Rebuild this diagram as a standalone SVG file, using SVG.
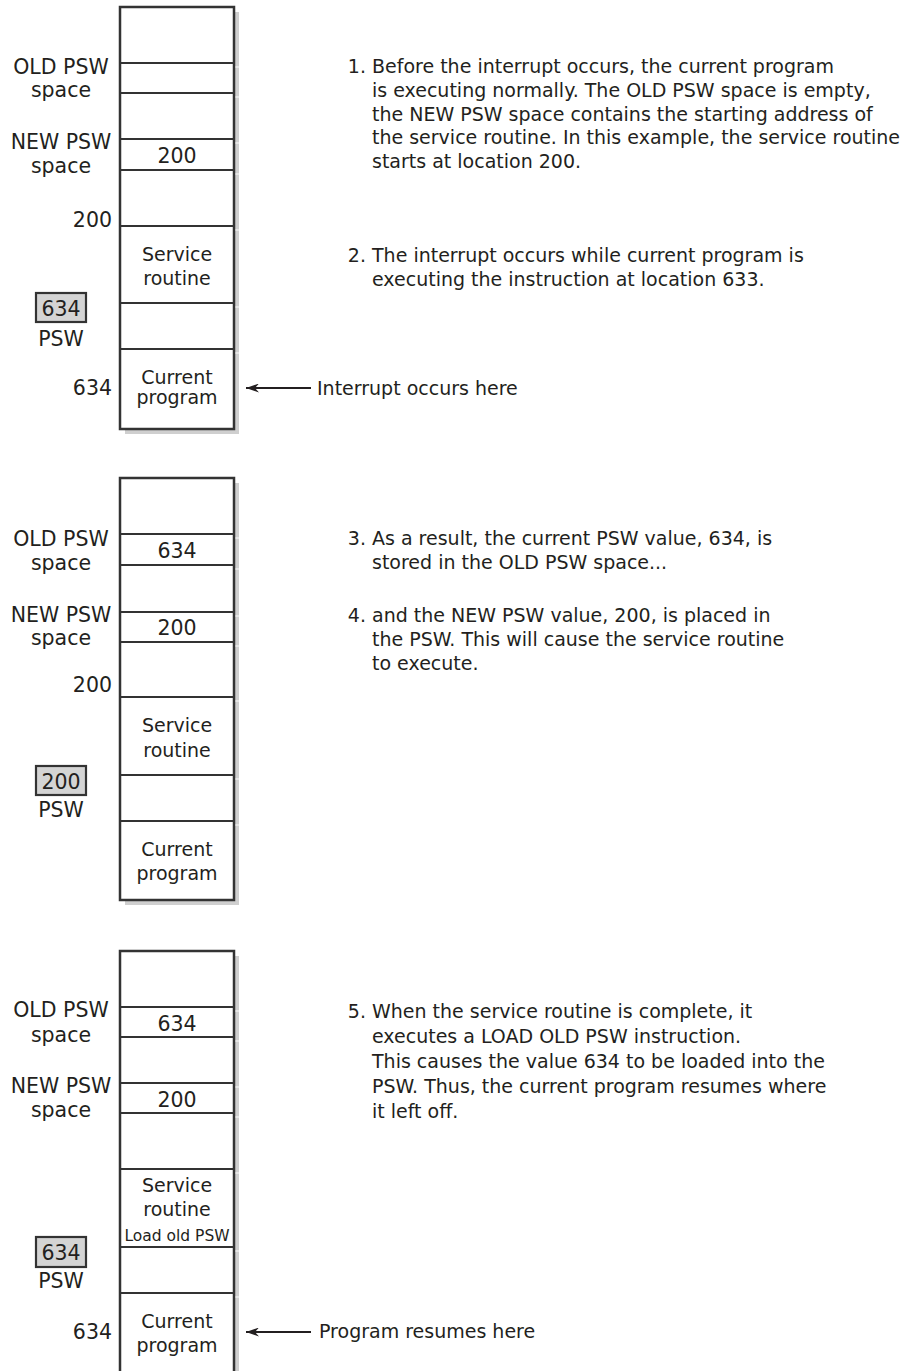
<svg xmlns="http://www.w3.org/2000/svg" width="911" height="1371" viewBox="0 0 911 1371">
<defs>
<style>
text{font-family:"DejaVu Sans","Liberation Sans",sans-serif;fill:#231f20;font-size:19px}
.c{text-anchor:middle}
.r{text-anchor:end}
.lab{font-size:20.5px}
.num{font-size:20.5px}
.small{font-size:15.5px}
.shadow{fill:#cfcfcf}
.mem{fill:#fff;stroke:#333;stroke-width:2.5}
.div{stroke:#333;stroke-width:2.2}
.tick{stroke:#ececec;stroke-width:1.5}
.psw{fill:#d4d4d4;stroke:#333;stroke-width:2.2}
.conn{stroke:#231f20;stroke-width:2;fill:none}
</style>
<marker id="ah" viewBox="0 0 13 9" refX="13" refY="4.5" markerWidth="13" markerHeight="9" markerUnits="userSpaceOnUse" orient="auto">
<path d="M13,4.5 L0,0 L4,4.5 L0,9 Z" fill="#231f20"/>
</marker>
</defs>
<rect width="911" height="1371" fill="#fff"/>

<!-- Panel 1 -->
<g id="memory1">
<rect class="shadow" x="125" y="12" width="114" height="422"/>
<rect class="mem" x="120" y="7" width="114" height="422"/>
<g class="div">
<line x1="120" y1="63" x2="234" y2="63"/>
<line x1="120" y1="93" x2="234" y2="93"/>
<line x1="120" y1="139" x2="234" y2="139"/>
<line x1="120" y1="170" x2="234" y2="170"/>
<line x1="120" y1="226" x2="234" y2="226"/>
<line x1="120" y1="303" x2="234" y2="303"/>
<line x1="120" y1="349" x2="234" y2="349"/>
</g>
<g class="tick">
<line x1="235.5" y1="67" x2="239" y2="67"/>
<line x1="235.5" y1="97" x2="239" y2="97"/>
<line x1="235.5" y1="143" x2="239" y2="143"/>
<line x1="235.5" y1="174" x2="239" y2="174"/>
<line x1="235.5" y1="230" x2="239" y2="230"/>
<line x1="235.5" y1="307" x2="239" y2="307"/>
<line x1="235.5" y1="353" x2="239" y2="353"/>
</g>
<text class="c num" x="177" y="163">200</text>
<text class="c" x="177" y="261">Service</text>
<text class="c" x="177" y="285">routine</text>
<text class="c" x="177" y="384">Current</text>
<text class="c" x="177" y="404">program</text>
</g>
<g id="labels1">
<text class="c lab" x="61" y="74">OLD PSW</text>
<text class="c lab" x="61" y="97">space</text>
<text class="c lab" x="61" y="149">NEW PSW</text>
<text class="c lab" x="61" y="173">space</text>
<text class="r lab" x="112" y="227">200</text>
<text class="r lab" x="112" y="395">634</text>
</g>
<g id="psw1">
<rect class="psw" x="36" y="293" width="50" height="29"/>
<text class="c num" x="61" y="316">634</text>
<text class="c lab" x="61" y="346">PSW</text>
</g>
<g id="note1">
<text class="r" x="366" y="73">1.</text>
<text x="372" y="73">Before the interrupt occurs, the current program</text>
<text x="372" y="97">is executing normally. The OLD PSW space is empty,</text>
<text x="372" y="121">the NEW PSW space contains the starting address of</text>
<text x="372" y="144">the service routine. In this example, the service routine</text>
<text x="372" y="168">starts at location 200.</text>
</g>
<g id="note2">
<text class="r" x="366" y="262">2.</text>
<text x="372" y="262">The interrupt occurs while current program is</text>
<text x="372" y="286">executing the instruction at location 633.</text>
</g>
<g id="label-interrupt">
<text x="317" y="395">Interrupt occurs here</text>
</g>

<!-- Panel 2 -->
<g id="memory2">
<rect class="shadow" x="125" y="483" width="114" height="422"/>
<rect class="mem" x="120" y="478" width="114" height="422"/>
<g class="div">
<line x1="120" y1="534" x2="234" y2="534"/>
<line x1="120" y1="565" x2="234" y2="565"/>
<line x1="120" y1="612" x2="234" y2="612"/>
<line x1="120" y1="642" x2="234" y2="642"/>
<line x1="120" y1="697" x2="234" y2="697"/>
<line x1="120" y1="775" x2="234" y2="775"/>
<line x1="120" y1="821" x2="234" y2="821"/>
</g>
<g class="tick">
<line x1="235.5" y1="538" x2="239" y2="538"/>
<line x1="235.5" y1="569" x2="239" y2="569"/>
<line x1="235.5" y1="616" x2="239" y2="616"/>
<line x1="235.5" y1="646" x2="239" y2="646"/>
<line x1="235.5" y1="701" x2="239" y2="701"/>
<line x1="235.5" y1="779" x2="239" y2="779"/>
<line x1="235.5" y1="825" x2="239" y2="825"/>
</g>
<text class="c num" x="177" y="558">634</text>
<text class="c num" x="177" y="635">200</text>
<text class="c" x="177" y="732">Service</text>
<text class="c" x="177" y="757">routine</text>
<text class="c" x="177" y="856">Current</text>
<text class="c" x="177" y="880">program</text>
</g>
<g id="labels2">
<text class="c lab" x="61" y="546">OLD PSW</text>
<text class="c lab" x="61" y="570">space</text>
<text class="c lab" x="61" y="622">NEW PSW</text>
<text class="c lab" x="61" y="645">space</text>
<text class="r lab" x="112" y="692">200</text>
</g>
<g id="psw2">
<rect class="psw" x="36" y="766" width="50" height="29"/>
<text class="c num" x="61" y="789">200</text>
<text class="c lab" x="61" y="817">PSW</text>
</g>
<g id="note3">
<text class="r" x="366" y="545">3.</text>
<text x="372" y="545">As a result, the current PSW value, 634, is</text>
<text x="372" y="569">stored in the OLD PSW space...</text>
</g>
<g id="note4">
<text class="r" x="366" y="622">4.</text>
<text x="372" y="622">and the NEW PSW value, 200, is placed in</text>
<text x="372" y="646">the PSW. This will cause the service routine</text>
<text x="372" y="670">to execute.</text>
</g>

<!-- Panel 3 -->
<g id="memory3">
<rect class="shadow" x="125" y="956" width="114" height="422"/>
<rect class="mem" x="120" y="951" width="114" height="422"/>
<g class="div">
<line x1="120" y1="1007" x2="234" y2="1007"/>
<line x1="120" y1="1037" x2="234" y2="1037"/>
<line x1="120" y1="1083" x2="234" y2="1083"/>
<line x1="120" y1="1113" x2="234" y2="1113"/>
<line x1="120" y1="1169" x2="234" y2="1169"/>
<line x1="120" y1="1247" x2="234" y2="1247"/>
<line x1="120" y1="1293" x2="234" y2="1293"/>
</g>
<g class="tick">
<line x1="235.5" y1="1011" x2="239" y2="1011"/>
<line x1="235.5" y1="1041" x2="239" y2="1041"/>
<line x1="235.5" y1="1087" x2="239" y2="1087"/>
<line x1="235.5" y1="1117" x2="239" y2="1117"/>
<line x1="235.5" y1="1173" x2="239" y2="1173"/>
<line x1="235.5" y1="1251" x2="239" y2="1251"/>
<line x1="235.5" y1="1297" x2="239" y2="1297"/>
</g>
<text class="c num" x="177" y="1031">634</text>
<text class="c num" x="177" y="1107">200</text>
<text class="c" x="177" y="1192">Service</text>
<text class="c" x="177" y="1216">routine</text>
<text class="c small" x="177" y="1241">Load old PSW</text>
<text class="c" x="177" y="1328">Current</text>
<text class="c" x="177" y="1352">program</text>
</g>
<g id="labels3">
<text class="c lab" x="61" y="1017">OLD PSW</text>
<text class="c lab" x="61" y="1042">space</text>
<text class="c lab" x="61" y="1093">NEW PSW</text>
<text class="c lab" x="61" y="1117">space</text>
<text class="r lab" x="112" y="1339">634</text>
</g>
<g id="psw3">
<rect class="psw" x="36" y="1237" width="50" height="30"/>
<text class="c num" x="61" y="1260">634</text>
<text class="c lab" x="61" y="1288">PSW</text>
</g>
<g id="note5">
<text class="r" x="366" y="1018">5.</text>
<text x="372" y="1018">When the service routine is complete, it</text>
<text x="372" y="1043">executes a LOAD OLD PSW instruction.</text>
<text x="372" y="1068">This causes the value 634 to be loaded into the</text>
<text x="372" y="1093">PSW. Thus, the current program resumes where</text>
<text x="372" y="1118">it left off.</text>
</g>
<g id="label-resume">
<text x="319" y="1338">Program resumes here</text>
</g>

<g id="connectors">
<line class="conn" x1="311" y1="388" x2="246" y2="388" marker-end="url(#ah)"/>
<line class="conn" x1="311" y1="1332" x2="246" y2="1332" marker-end="url(#ah)"/>
</g>
</svg>
